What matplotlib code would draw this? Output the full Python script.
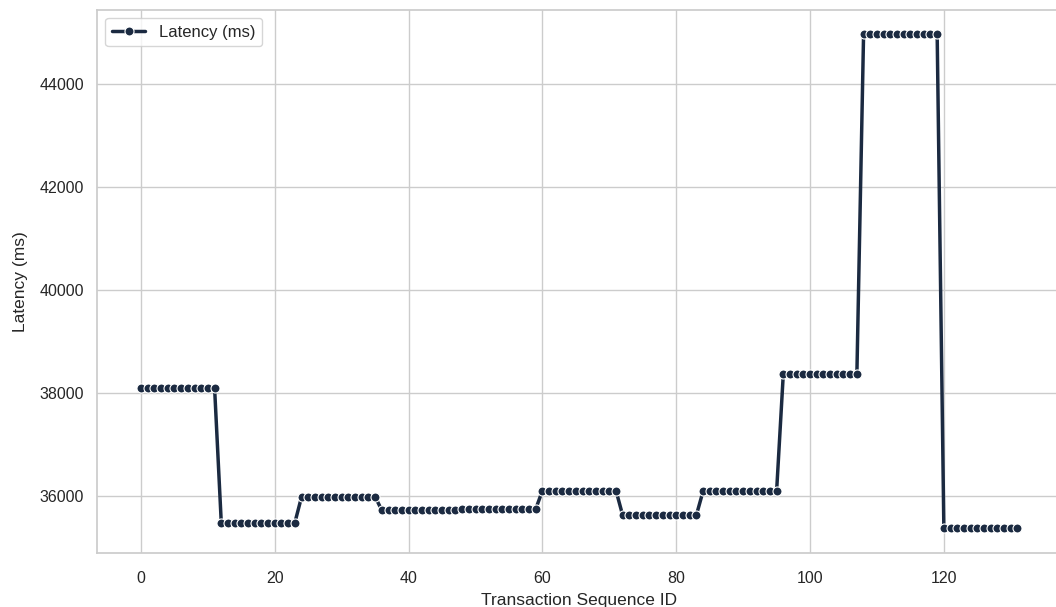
import numpy as np
import matplotlib
matplotlib.use("Agg")
import matplotlib.pyplot as plt
import seaborn as sns

# Step levels (each held for 12 consecutive transactions)
level_values = [38100, 35480, 35980, 35720, 35745, 36100, 35620, 36085, 38360, 44960, 35370]
points_per_level = 12
x_label = "Transaction Sequence ID"
y_label = "Latency (ms)"
series_name = "Latency (ms)"
line_color = "#1b2a41"

latency = np.repeat(level_values, points_per_level)
seq_id = np.arange(len(latency))

sns.set_theme(style="whitegrid")
plt.rcParams['font.family'] = ['Liberation Sans', 'DejaVu Sans']

fig, ax = plt.subplots(figsize=(10.56, 6.07), dpi=100)
fig.subplots_adjust(left=0.092, right=1.005, top=0.984, bottom=0.089)

ax.plot(seq_id, latency, color=line_color, linewidth=2.5, marker='o',
        markersize=6.5, markeredgecolor='white', markeredgewidth=0.8,
        label=series_name)

ax.set_xlabel(x_label, fontsize=12.5, color='#262626', labelpad=5)
ax.set_ylabel(y_label, fontsize=12.5, color='#262626', labelpad=8)
ax.tick_params(axis='both', labelsize=11.5, colors='#262626')
ax.tick_params(axis='x', pad=7)
ax.legend(loc='upper left', fontsize=12, frameon=True)

fig.savefig("out.png", dpi=100)
